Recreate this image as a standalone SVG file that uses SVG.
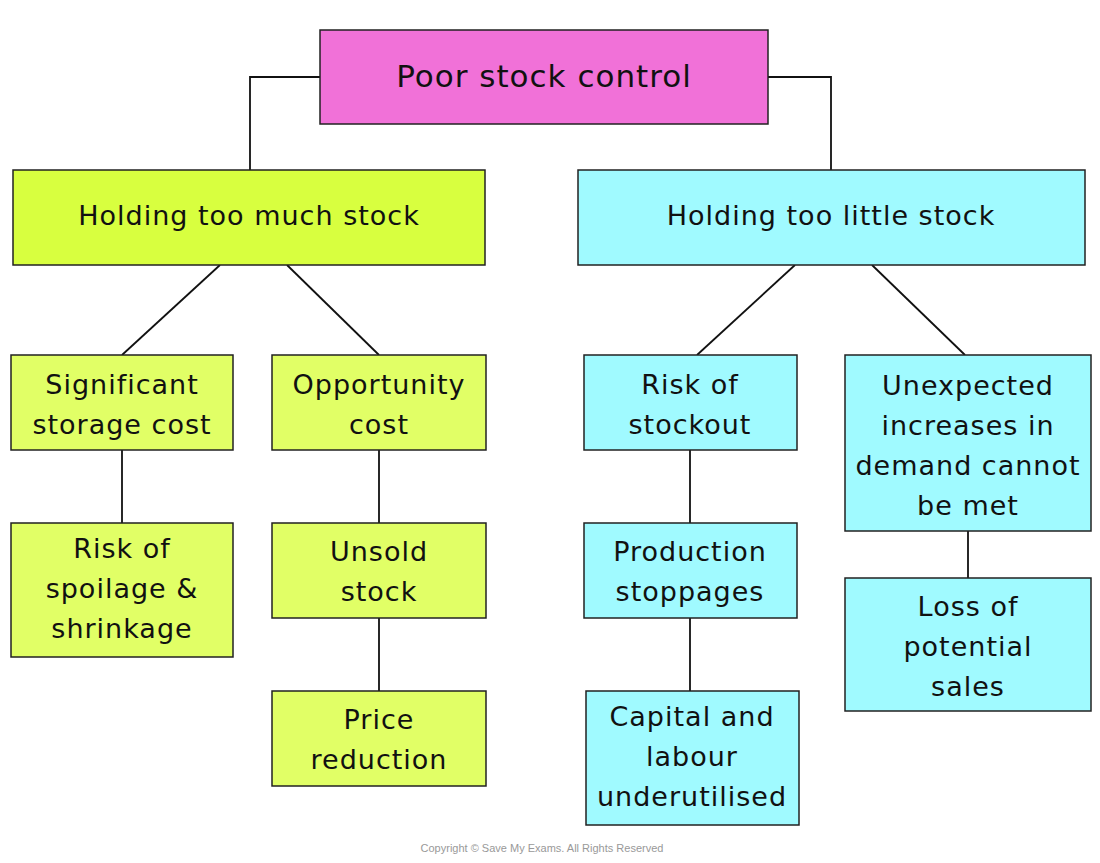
<svg xmlns="http://www.w3.org/2000/svg" width="1100" height="863" viewBox="0 0 1100 863">
<style>
.n rect{stroke:#222;stroke-width:1.5}
.p{fill:#F171D8}.g{fill:#D8FF3F}.lg{fill:#E1FF66}.c{fill:#A0FAFF}
text{font-family:"DejaVu Sans",sans-serif;font-size:27px;fill:#111;text-anchor:middle;letter-spacing:1px}
.conn line,.conn polyline{stroke:#111;stroke-width:1.8;fill:none}
</style>
<rect width="1100" height="863" fill="#fff"/>
<g class="conn">
<polyline points="320,77 250,77 250,170"/>
<polyline points="768,77 831,77 831,170"/>
<line x1="220" y1="265" x2="122" y2="355"/>
<line x1="287" y1="265" x2="379" y2="355"/>
<line x1="795" y1="265" x2="697" y2="355"/>
<line x1="872" y1="265" x2="965" y2="355"/>
<line x1="122" y1="450" x2="122" y2="523"/>
<line x1="379" y1="450" x2="379" y2="523"/>
<line x1="379" y1="618" x2="379" y2="691"/>
<line x1="690" y1="450" x2="690" y2="523"/>
<line x1="690" y1="618" x2="690" y2="691"/>
<line x1="968" y1="531" x2="968" y2="578"/>
</g>
<g class="n">
<g id="root"><rect class="p" x="320" y="30" width="448" height="94"/><text x="544" y="87" style="font-size:31px">Poor stock control</text></g>
<g id="much"><rect class="g" x="13" y="170" width="472" height="95"/><text x="249" y="225">Holding too much stock</text></g>
<g id="little"><rect class="c" x="578" y="170" width="507" height="95"/><text x="831" y="225">Holding too little stock</text></g>
<g id="storage"><rect class="lg" x="11" y="355" width="222" height="95"/><text x="122" y="394">Significant</text><text x="122" y="434">storage cost</text></g>
<g id="opp"><rect class="lg" x="272" y="355" width="214" height="95"/><text x="379" y="394">Opportunity</text><text x="379" y="434">cost</text></g>
<g id="spoil"><rect class="lg" x="11" y="523" width="222" height="134"/><text x="122" y="558">Risk of</text><text x="122" y="598">spoilage &amp;</text><text x="122" y="638">shrinkage</text></g>
<g id="unsold"><rect class="lg" x="272" y="523" width="214" height="95"/><text x="379" y="561">Unsold</text><text x="379" y="601">stock</text></g>
<g id="price"><rect class="lg" x="272" y="691" width="214" height="95"/><text x="379" y="729">Price</text><text x="379" y="769">reduction</text></g>
<g id="stockout"><rect class="c" x="584" y="355" width="213" height="95"/><text x="690" y="394">Risk of</text><text x="690" y="434">stockout</text></g>
<g id="prod"><rect class="c" x="584" y="523" width="213" height="95"/><text x="690" y="561">Production</text><text x="690" y="601">stoppages</text></g>
<g id="capital"><rect class="c" x="586" y="691" width="213" height="134"/><text x="692" y="726">Capital and</text><text x="692" y="766">labour</text><text x="692" y="806">underutilised</text></g>
<g id="unexp"><rect class="c" x="845" y="355" width="246" height="176"/><text x="968" y="395">Unexpected</text><text x="968" y="435">increases in</text><text x="968" y="475">demand cannot</text><text x="968" y="515">be met</text></g>
<g id="loss"><rect class="c" x="845" y="578" width="246" height="133"/><text x="968" y="616">Loss of</text><text x="968" y="656">potential</text><text x="968" y="696">sales</text></g>
</g>
<text x="542" y="852" style="font-size:11px;fill:#999;letter-spacing:0;font-family:'Liberation Sans',sans-serif">Copyright © Save My Exams. All Rights Reserved</text>
</svg>
